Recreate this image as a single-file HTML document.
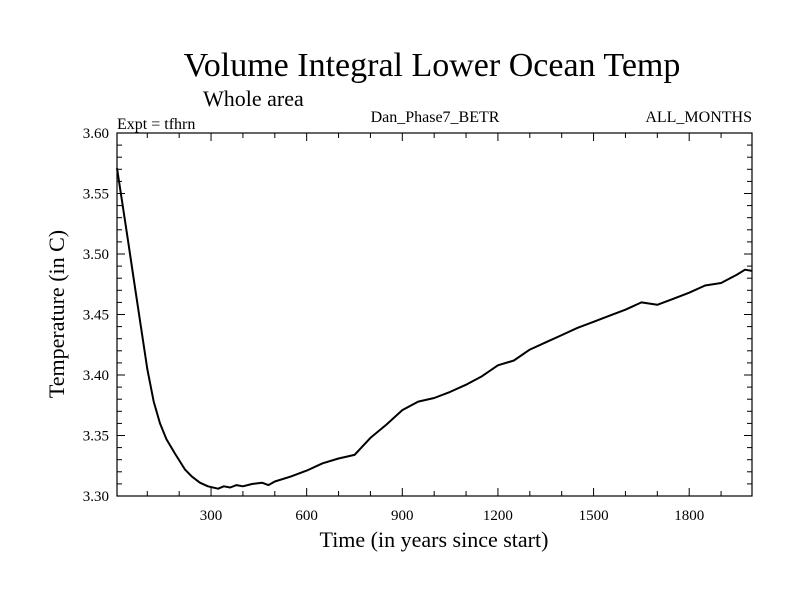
<!DOCTYPE html>
<html><head><meta charset="utf-8"><style>
body{margin:0;background:#fff;}
svg{display:block;font-family:"Liberation Serif",serif;}
</style></head><body>
<svg id="chart" width="800" height="600">
<text x="432" y="76" font-size="34" text-anchor="middle">Volume Integral Lower Ocean Temp</text>
<text x="203" y="106" font-size="22">Whole area</text>
<text x="117" y="129" font-size="16">Expt = tfhrn</text>
<text x="435" y="122" font-size="16" text-anchor="middle">Dan_Phase7_BETR</text>
<text x="752" y="122" font-size="16" text-anchor="end">ALL_MONTHS</text>
<text x="434" y="547" font-size="22" text-anchor="middle">Time (in years since start)</text>
<text transform="translate(64,314) rotate(-90)" font-size="22" text-anchor="middle">Temperature (in C)</text>
<g id="axes"></g>
<path id="line" fill="none" stroke="#000" stroke-width="2" stroke-linejoin="round"></path>
<rect x="117" y="133" width="635" height="363" fill="none" stroke="#000" stroke-width="1.2"></rect>
</svg>
<script>
const years=[5,20,40,60,80,100,120,140,160,187,218,240,265,290,322,340,360,380,400,430,460,480,500,550,600,650,700,750,800,850,900,950,1000,1050,1100,1150,1200,1250,1300,1350,1400,1450,1500,1550,1600,1650,1700,1750,1800,1850,1900,1950,1975,1997];
const temps=[3.571,3.545,3.51,3.475,3.44,3.405,3.378,3.36,3.347,3.335,3.322,3.316,3.311,3.308,3.306,3.308,3.307,3.309,3.308,3.310,3.311,3.309,3.312,3.316,3.321,3.327,3.331,3.334,3.348,3.359,3.371,3.378,3.381,3.386,3.392,3.399,3.408,3.412,3.421,3.427,3.433,3.439,3.444,3.449,3.454,3.460,3.458,3.463,3.468,3.474,3.476,3.483,3.487,3.486];
const xTicks=[300,600,900,1200,1500,1800];
const yTicks=[3.30,3.35,3.40,3.45,3.50,3.55,3.60];
const X0=117,X1=752,Y0=496,Y1=133,xmin=5,xmax=1997,ymin=3.30,ymax=3.60;
const sx=v=>X0+(v-xmin)/(xmax-xmin)*(X1-X0);
const sy=v=>Y0-(v-ymin)/(ymax-ymin)*(Y0-Y1);
const ns="http://www.w3.org/2000/svg",g=document.getElementById('axes');
function ln(x1,y1,x2,y2){const l=document.createElementNS(ns,'line');l.setAttribute('x1',x1);l.setAttribute('y1',y1);l.setAttribute('x2',x2);l.setAttribute('y2',y2);l.setAttribute('stroke','#000');l.setAttribute('stroke-width','1');


g.appendChild(l);}
for(let v=100;v<xmax;v+=100){const x=sx(v),L=(v%300===0)?8:5;ln(x,Y0,x,Y0-L);ln(x,Y1,x,Y1+L);}
for(let i=0;i<=30;i++){const v=ymin+i*0.01,y=sy(v),L=(i%5===0)?8:5;ln(X0,y,X0+L,y);ln(X1,y,X1-L,y);}
xTicks.forEach(v=>{const t=document.createElementNS(ns,'text');t.setAttribute('x',sx(v));t.setAttribute('y',Y0+24);t.setAttribute('font-size','15');t.setAttribute('text-anchor','middle');t.textContent=v;


g.appendChild(t);});
yTicks.forEach(v=>{const t=document.createElementNS(ns,'text');t.setAttribute('x',X0-8);t.setAttribute('y',sy(v)+5);t.setAttribute('font-size','15');t.setAttribute('text-anchor','end');t.textContent=v.toFixed(2);


g.appendChild(t);});
document.getElementById('line').setAttribute('d',years.map((y,i)=>(i?'L':'M')+sx(y).toFixed(1)+','+sy(temps[i]).toFixed(1)).join(''));
</script>
</body></html>
